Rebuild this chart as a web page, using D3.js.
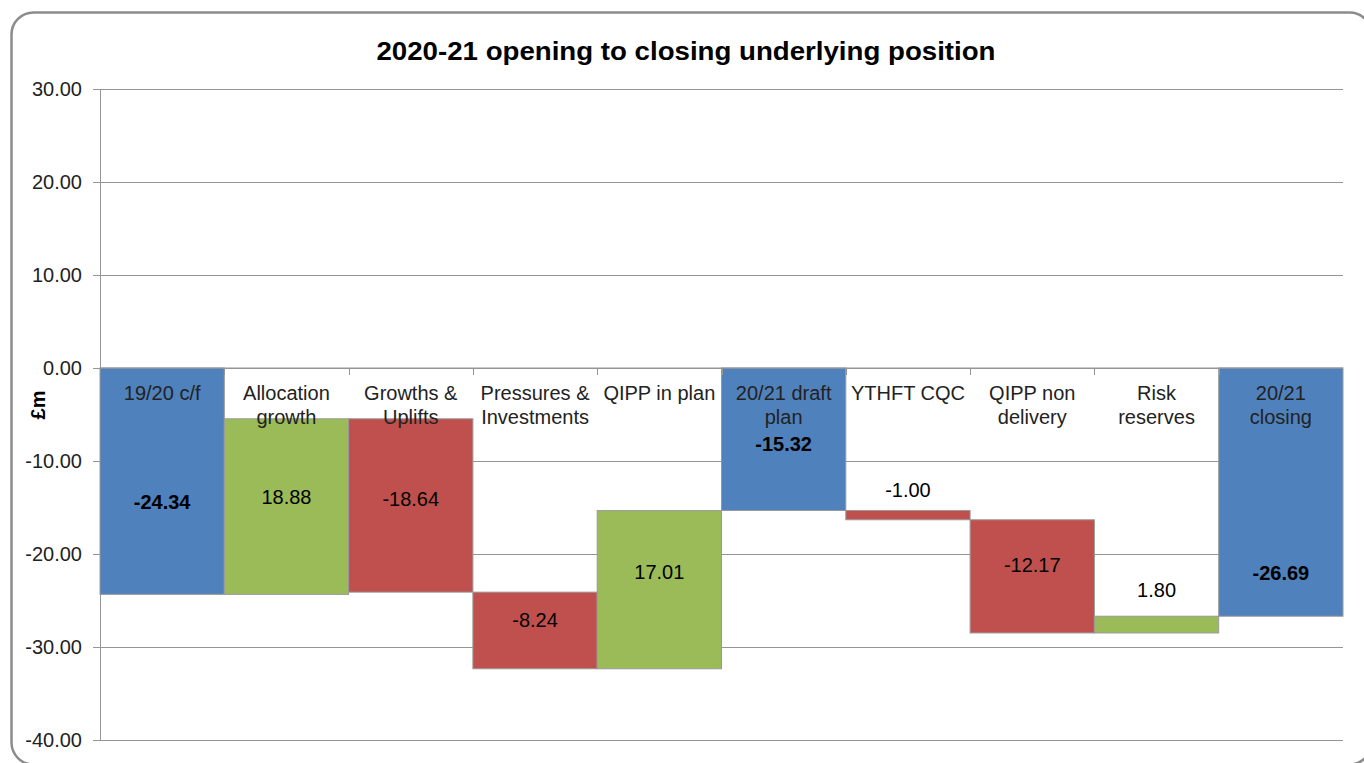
<!DOCTYPE html>
<html>
<head>
<meta charset="utf-8">
<script src="https://cdn.jsdelivr.net/npm/d3@7"></script>
<style>
  body { margin: 0; background: #fff; }
  svg { display: block; font-family: "Liberation Sans", Arial, sans-serif; }
</style>
</head>
<body>
<div id="chart"></div>
<script>
// categories (line breaks where the axis label wraps)
const categories = [
  "19/20 c/f", "Allocation\ngrowth", "Growths &\nUplifts", "Pressures &\nInvestments",
  "QIPP in plan", "20/21 draft\nplan", "YTHFT CQC", "QIPP non\ndelivery", "Risk\nreserves", "20/21\nclosing"
];
// step values, totals marked by kind
const values = [-24.34, 18.88, -18.64, -8.24, 17.01, -15.32, -1.00, -12.17, 1.80, -26.69];
const kinds  = ["total", "up", "down", "down", "up", "total", "down", "down", "up", "total"];
const yTicks = [30, 20, 10, 0, -10, -20, -30, -40];
const title = "2020-21 opening to closing underlying position";

const W = 1364, H = 763;
const margin = { top: 89, right: 21, bottom: 23, left: 100 };
const width = W - margin.left - margin.right;
const height = H - margin.top - margin.bottom;

const colors = { total: "#4F81BD", up: "#9BBB59", down: "#C0504D" };
// excel style numbers: plain hyphen minus
const fmt = function(v) { return d3.format(".2f")(v).replace("\u2212", "-"); };

// build waterfall segments from the steps
let running = 0;
const bars = values.map(function(v, i) {
  let start, end;
  if (kinds[i] === "total") { start = 0; end = v; running = v; }
  else { start = running; end = running + v; running = end; }
  return { cat: categories[i], value: v, kind: kinds[i], start: start, end: end, i: i };
});

// where Excel put each data label (in £m on the value axis)
const labelAnchors = [-14.41, -13.87, -14.09, -27.10, -21.94, -8.17, -13.12, -21.18, -23.87, -22.04];

const svg = d3.select("#chart").append("svg")
  .attr("width", W).attr("height", H);

// chart area border
svg.append("rect")
  .attr("x", 11.5).attr("y", 12.5)
  .attr("width", 1360).attr("height", 752)
  .attr("rx", 22).attr("ry", 22)
  .attr("fill", "#fff").attr("stroke", "#8c8c8c").attr("stroke-width", 2.5);

svg.append("text")
  .attr("x", 686).attr("y", 60)
  .attr("text-anchor", "middle")
  .attr("font-size", 26).attr("font-weight", "bold")
  .attr("textLength", 619).attr("lengthAdjust", "spacingAndGlyphs")
  .attr("fill", "#000")
  .text(title);

const g = svg.append("g").attr("transform", "translate(" + margin.left + "," + margin.top + ")");

const x = d3.scaleBand().domain(categories).range([0, width]).padding(0);
const y = d3.scaleLinear().domain([-40, 30]).range([height, 0]);

// gridlines + value axis
g.append("g")
  .call(d3.axisLeft(y).tickValues(yTicks).tickSize(-width).tickFormat(fmt))
  .call(function(a) {
    a.select(".domain").remove();
    a.selectAll(".tick line").attr("stroke", "#959595").attr("x1", -7);
    a.selectAll(".tick text").attr("x", -18).attr("font-size", 20)
      .attr("fill", "#222").attr("font-family", "Liberation Sans, Arial, sans-serif");
  });

g.append("line")
  .attr("x1", 0.5).attr("x2", 0.5).attr("y1", 0).attr("y2", height)
  .attr("stroke", "#959595");

// bars
g.selectAll(".bar")
  .data(bars)
  .enter().append("rect")
    .attr("class", "bar")
    .attr("x", function(d) { return x(d.cat); })
    .attr("width", x.bandwidth())
    .attr("y", function(d) { return y(Math.max(d.start, d.end)); })
    .attr("height", function(d) { return Math.abs(y(d.start) - y(d.end)); })
    .attr("fill", function(d) { return colors[d.kind]; })
    .attr("stroke", "#999").attr("stroke-width", 1);

// category axis at zero with tick marks between categories
const xAxis = g.append("g").attr("transform", "translate(0," + y(0) + ")");
xAxis.append("line").attr("x1", 0).attr("x2", width).attr("stroke", "#959595");
xAxis.selectAll(".ctick")
  .data(categories.slice(1))
  .enter().append("line")
    .attr("x1", function(d) { return Math.round(x(d)) + 0.5; })
    .attr("x2", function(d) { return Math.round(x(d)) + 0.5; })
    .attr("y1", 0).attr("y2", 7)
    .attr("stroke", "#959595");

const catLabels = xAxis.selectAll(".clabel")
  .data(categories)
  .enter().append("text")
    .attr("text-anchor", "middle")
    .attr("font-size", 20)
    .attr("fill", "#222")
    .attr("transform", function(d) { return "translate(" + (x(d) + x.bandwidth() / 2) + ",0)"; });
catLabels.selectAll("tspan")
  .data(function(d) { return d.split("\n"); })
  .enter().append("tspan")
    .attr("x", 0)
    .attr("y", function(d, i) { return 32 + i * 24; })
    .text(function(d) { return d; });

// data labels
g.selectAll(".vlabel")
  .data(bars)
  .enter().append("text")
    .attr("x", function(d) { return x(d.cat) + x.bandwidth() / 2; })
    .attr("y", function(d) { return y(labelAnchors[d.i]); })
    .attr("dy", "0.35em")
    .attr("text-anchor", "middle")
    .attr("font-size", 20)
    .attr("font-weight", function(d) { return d.kind === "total" ? "bold" : "normal"; })
    .attr("fill", "#000")
    .text(function(d) { return fmt(d.value); });

// axis title
svg.append("text")
  .attr("transform", "translate(45,405) rotate(-90)")
  .attr("text-anchor", "middle")
  .attr("font-size", 20).attr("font-weight", "bold")
  .text("£m");
</script>
</body>
</html>
